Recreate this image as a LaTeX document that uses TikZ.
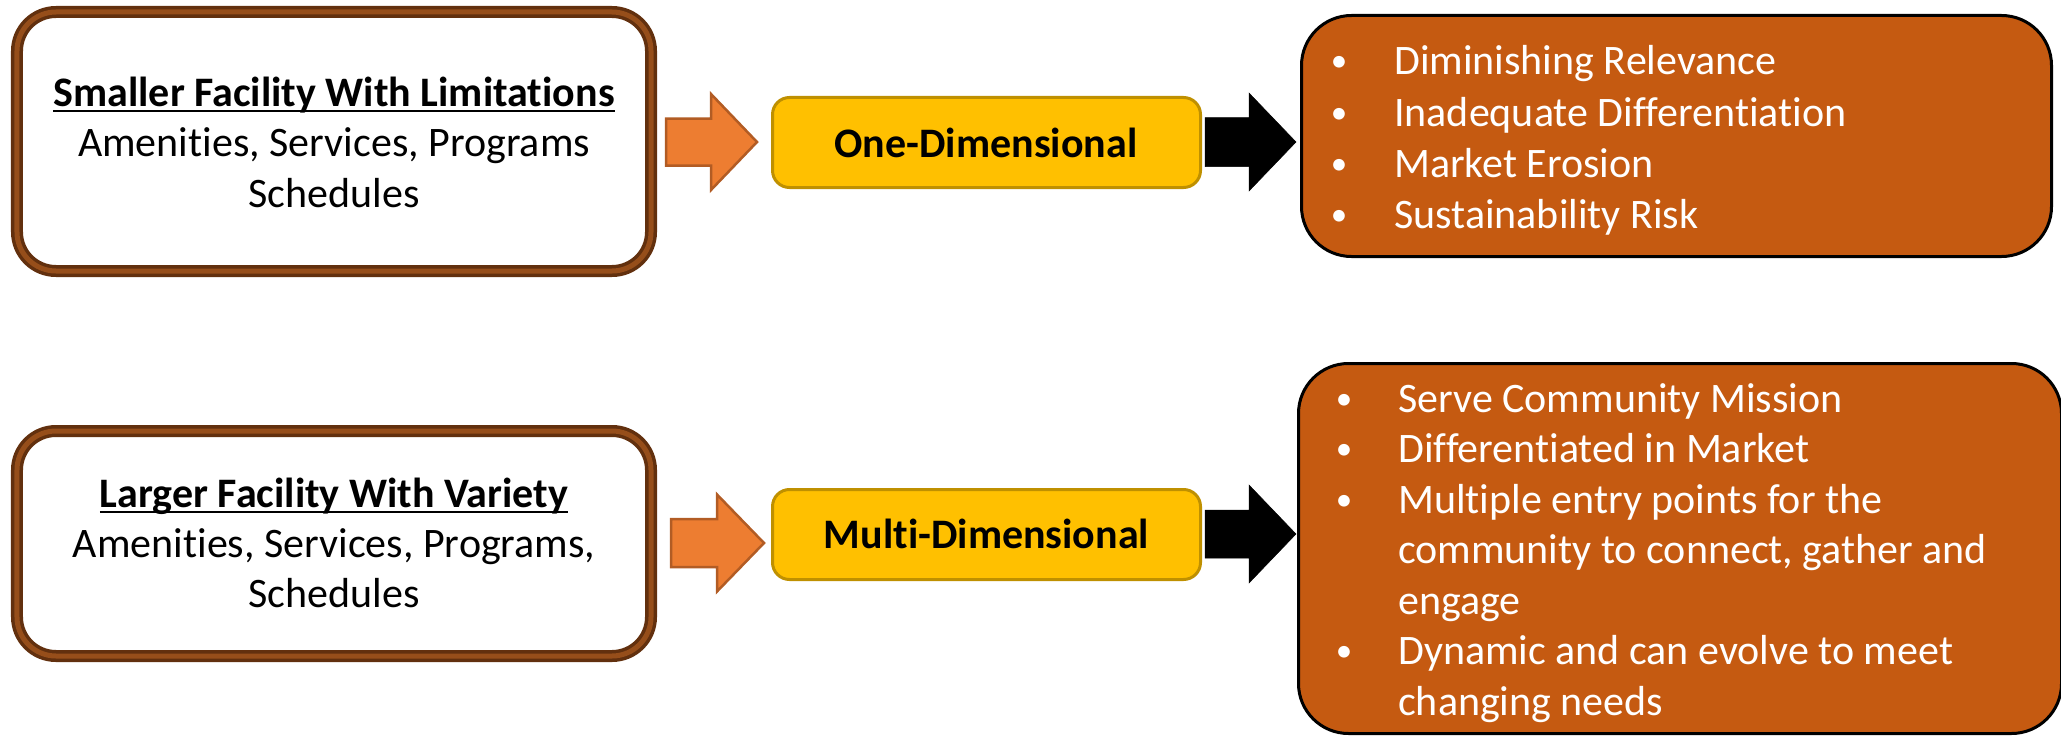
\documentclass[tikz,border=0pt]{standalone}
\usepackage{fontspec}
\setmainfont[Ligatures={TeX,CommonOff}]{Carlito}
\newcommand\bodysize{\fontsize{42bp}{50bp}\selectfont}
\newcommand\dotsize{\fontsize{33bp}{40bp}\selectfont}
% block arrow: style, shaft start x, head start x, tip x, centre y, shaft half height, head half height
\newcommand\blockarrow[7]{%
  \draw[#1] ({#2},{#5-#6}) -- ({#3},{#5-#6}) -- ({#3},{#5-#7}) -- ({#4},{#5})
    -- ({#3},{#5+#7}) -- ({#3},{#5+#6}) -- ({#2},{#5+#6}) -- cycle;}
\begin{document}
\begin{tikzpicture}[x=1bp,y=-1bp,
  facility/.style={rectangle, rounded corners=39bp, draw={rgb,255:red,98;green,48;blue,14},
    line width=12bp, fill=white, inner sep=0pt,
    postaction={draw={rgb,255:red,150;green,78;blue,26}, line width=5bp}},
  dimbox/.style={rectangle, rounded corners=17bp, fill={rgb,255:red,255;green,192;blue,0},
    draw={rgb,255:red,191;green,144;blue,0}, line width=3bp, inner sep=0pt,
    minimum width=428bp, minimum height=90bp},
  outcome/.style={rectangle, rounded corners=50bp, fill={rgb,255:red,197;green,90;blue,17},
    draw=black, line width=3bp, inner sep=0pt},
  txt/.style={inner sep=0pt, font=\bodysize},
  bold/.style={inner sep=0pt, font=\bodysize\bfseries},
  wtxt/.style={inner sep=0pt, font=\bodysize, text=white},
  wdot/.style={inner sep=0pt, font=\dotsize, text=white},
  orangearrow/.style={fill={rgb,255:red,237;green,125;blue,49}, draw={rgb,255:red,178;green,92;blue,36},
    line width=2.5bp, line join=miter},
  blackarrow/.style={fill=black, draw=black, line width=0.5bp},
  uline/.style={line width=2.6bp, draw=black}
]
\useasboundingbox (0,0) rectangle (2061,736);

% ---- upper row ----
\node[facility, minimum width=634bp, minimum height=259bp] (small) at (334,141.5) {};
\node[bold, anchor=base] (smallhead) at (334,106) {Smaller Facility With Limitations};
\draw[uline] ([yshift=-5bp]smallhead.base west) -- ([yshift=-5bp]smallhead.base east);
\node[txt, anchor=base] (smallb) at (334,156) {Amenities, Services, Programs};
\node[txt, anchor=base] (smallc) at (334,207) {Schedules};

\blockarrow{orangearrow}{666}{711}{757}{142}{23.5}{48}

\node[dimbox] (one) at (986.5,142.5) {};
\node[bold, anchor=base] (onelbl) at (986,157) {One-Dimensional};

\blockarrow{blackarrow}{1205}{1249}{1296}{142}{24.5}{49}

\node[outcome, minimum width=750bp, minimum height=241bp] (risk) at (1676.5,136) {};
\foreach \yy/\tt [count=\i] in {75/Diminishing Relevance, 126/Inadequate Differentiation,
    177/Market Erosion, 228/Sustainability Risk}{
  \node[wdot, anchor=base] (riskdot\i) at (1339,\yy-3) {•};
  \node[wtxt, anchor=base west] (risk\i) at (1394,\yy) {\tt};
}

% ---- lower row ----
\node[facility, minimum width=634bp, minimum height=225bp] (large) at (334,543.5) {};
\node[bold, anchor=base] (largehead) at (334,507) {Larger Facility With Variety};
\draw[uline] ([yshift=-5bp]largehead.base west) -- ([yshift=-5bp]largehead.base east);
\node[txt, anchor=base] (largeb) at (334,557) {Amenities, Services, Programs,};
\node[txt, anchor=base] (largec) at (334,607) {Schedules};

\blockarrow{orangearrow}{671}{717}{764}{543}{24}{48.5}

\node[dimbox] (multi) at (986.5,534.5) {};
\node[bold, anchor=base] (multilbl) at (986.5,548) {Multi-Dimensional};

\blockarrow{blackarrow}{1205}{1249}{1296}{534}{24}{49}

\node[outcome, minimum width=763bp, minimum height=370bp] (gain) at (1680,548.5) {};
\foreach \yy [count=\i] in {412, 462.5, 513, 664.5}{
  \node[wdot, anchor=base] (gaindot\i) at (1344,\yy-3) {•};
}
\foreach \yy/\tt [count=\i] in {412/Serve Community Mission, 462.5/Differentiated in Market,
    513/Multiple entry points for the, 563.5/{community to connect, gather and},
    614/engage, 664.5/Dynamic and can evolve to meet, 715/changing needs}{
  \node[wtxt, anchor=base west] (gain\i) at (1398,\yy) {\tt};
}
\end{tikzpicture}
\end{document}
